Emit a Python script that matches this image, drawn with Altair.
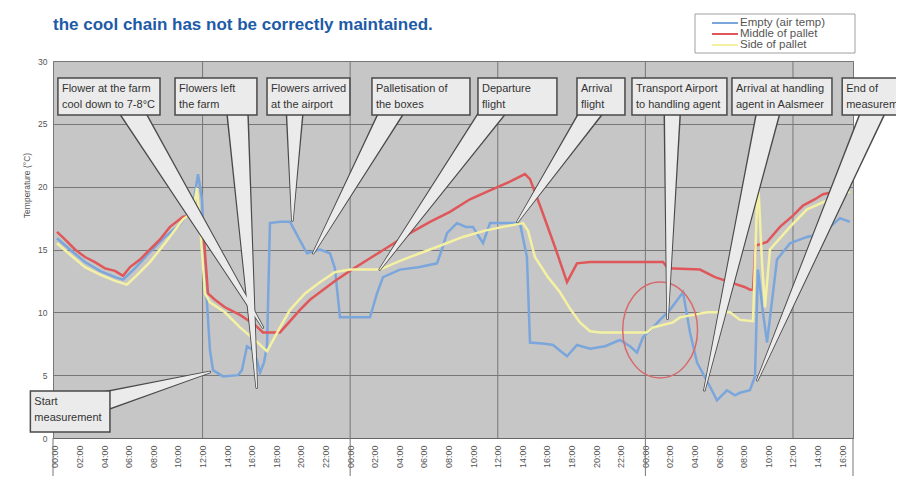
import altair as alt
import pandas as pd

# ---------------- data ----------------
series_names = ["Empty (air temp)", "Middle of pallet", "Side of pallet"]
series_colors = ["#7ba6dc", "#e0575a", "#f4f1a3"]

empty_h = [0.16, 1.22, 2.44, 3.66, 4.88, 5.53, 6.50, 7.72, 8.94, 10.16, 11.22, 11.63, 11.95, 12.28,
           12.60, 12.85, 13.66, 14.88, 15.20, 15.61, 16.10, 16.42, 16.67, 16.99, 17.24, 17.48, 18.29,
           19.11, 19.76, 20.49, 21.54, 22.36, 22.76, 23.17, 25.61, 26.18, 26.67, 28.05, 29.67, 31.06,
           31.46, 31.87, 32.68, 33.41, 33.98, 34.80, 35.37, 36.99, 37.80, 38.37, 38.62, 39.84, 40.49,
           41.63, 42.44, 43.50, 44.72, 45.93, 46.75, 47.32, 47.80, 48.62, 49.19, 50.00, 51.06, 51.63,
           52.20, 53.25, 53.82, 54.63, 55.28, 55.69, 56.50, 56.91, 57.15, 57.56, 57.89, 58.70, 59.76,
           61.14, 62.44, 63.82, 64.63]
empty_t = [15.9, 15.0, 14.0, 13.3, 12.8, 12.6, 13.5, 14.8, 16.0, 17.0, 18.5, 21.0, 19.0, 12.0,
           7.0, 5.4, 4.9, 5.0, 5.4, 7.3, 7.0, 6.2, 5.2, 6.0, 7.3, 17.1, 17.2,
           17.2, 16.0, 14.7, 15.0, 14.7, 13.5, 9.6, 9.6, 11.5, 12.8, 13.4, 13.6, 13.9,
           15.0, 16.3, 17.1, 16.8, 16.8, 15.5, 17.1, 17.1, 17.1, 14.4, 7.6, 7.5, 7.4,
           6.5, 7.4, 7.1, 7.3, 7.8, 7.3, 6.8, 8.0, 8.8, 9.4, 10.2, 11.6, 8.4,
           6.0, 4.1, 3.0, 3.8, 3.4, 3.6, 3.8, 4.9, 13.4, 10.0, 7.6, 14.2, 15.5,
           16.0, 16.3, 17.5, 17.2]

middle_h = [0.16, 0.81, 1.63, 2.44, 3.25, 4.07, 4.88, 5.53, 6.10, 6.91, 7.72, 8.54, 9.35, 10.41,
            11.38, 12.03, 12.44, 13.01, 13.82, 15.04, 16.26, 16.91, 18.29, 19.11, 19.92, 20.73,
            21.54, 22.76, 23.98, 25.61, 27.24, 28.86, 30.49, 32.11, 33.74, 35.37, 36.99, 38.21,
            38.62, 39.43, 40.65, 41.63, 42.44, 43.50, 45.93, 49.43, 49.84, 52.44, 53.66, 54.88,
            56.10, 56.50, 56.75, 56.95, 57.89, 58.94, 60.00, 60.81, 61.79, 62.44, 63.41, 64.63]
middle_t = [16.4, 15.8, 15.0, 14.4, 14.0, 13.5, 13.3, 12.9, 13.6, 14.2, 15.0, 15.8, 16.8, 17.6,
            17.7, 17.0, 11.5, 11.0, 10.4, 9.8, 9.0, 8.4, 8.4, 9.3, 10.2, 11.0,
            11.6, 12.5, 13.3, 14.3, 15.3, 16.3, 17.2, 18.0, 19.0, 19.7, 20.4, 21.0,
            20.6, 18.5, 15.2, 12.4, 13.9, 14.0, 14.0, 14.0, 13.5, 13.4, 12.8, 12.4,
            12.0, 11.8, 11.8, 15.3, 15.6, 16.8, 17.7, 18.5, 19.0, 19.4, 19.6, 20.0]

side_h = [0.16, 1.22, 2.44, 3.66, 4.88, 5.85, 6.50, 7.72, 8.94, 10.41, 11.22, 11.54, 11.79, 12.20,
          12.60, 13.82, 15.04, 16.26, 17.24, 18.13, 19.11, 20.33, 21.54, 22.76, 23.98, 26.42,
          28.05, 29.67, 31.30, 33.17, 34.96, 36.42, 38.05, 38.46, 39.02, 40.08, 41.06, 41.87,
          42.68, 43.50, 44.31, 48.13, 48.62, 50.24, 50.81, 53.01, 54.88, 55.69, 56.75, 57.15,
          57.48, 57.72, 58.13, 59.76, 61.14, 63.01, 64.63]
side_t = [15.5, 14.6, 13.6, 13.0, 12.5, 12.2, 12.8, 14.0, 15.5, 17.4, 18.0, 19.9, 17.0, 11.5,
          10.8, 10.0, 8.8, 7.8, 6.9, 8.5, 10.2, 11.5, 12.4, 13.2, 13.4, 13.4,
          14.1, 14.7, 15.3, 16.0, 16.5, 16.8, 17.1, 16.5, 14.4, 12.8, 11.6, 10.3,
          9.2, 8.5, 8.4, 8.4, 8.8, 9.2, 9.6, 10.0, 10.0, 9.4, 9.3, 20.8,
          14.0, 10.4, 15.0, 16.8, 18.2, 19.0, 19.6]

x_domain = [-0.16, 64.88]
y_domain = [0, 30]
tick_hours = list(range(0, 65, 2))
y_ticks = [0, 5, 10, 15, 20, 25, 30]
half_day_grid = [12, 24, 36, 48, 60]
long_ticks = [x_domain[0], 24, 48, x_domain[1]]

title_lines = ["Figure 1 > Example of storage and transport where",
               "the cool chain has not be correctly maintained."]
y_title = "Temperature (°C)"

box_labels = ["Flower at the farm\ncool down to 7-8°C", "Flowers left\nthe farm",
              "Flowers arrived\nat the airport", "Palletisation of\nthe boxes",
              "Departure\nflight", "Arrival\nflight", "Transport Airport\nto handling agent",
              "Arrival at handling\nagent in Aalsmeer", "End of\nmeasurement",
              "Start\nmeasurement"]
box_h1 = [0.24, 9.76, 17.24, 25.77, 34.39, 42.44, 46.91, 55.04, 64.0, -2.0]
box_h2 = [8.54, 16.42, 23.98, 33.74, 40.81, 46.34, 54.63, 63.17, 71.0, 4.47]
box_top = [28.64, 28.64, 28.64, 28.64, 28.64, 28.64, 28.64, 28.64, 28.64, 3.74]
box_bottom = [25.7, 25.7, 25.7, 25.7, 25.7, 25.7, 25.7, 25.7, 25.7, 0.48]

wedge_base_h = [6.0, 14.8, 19.5, 27.6, 35.9, 43.9, 50.2, 58.1, 66.7, 3.5]
wedge_base_t = [26.4, 26.4, 26.4, 26.4, 26.4, 26.4, 26.4, 26.4, 26.4, 2.8]
wedge_tip_h = [16.9, 16.4, 19.3, 21.0, 26.4, 37.6, 49.8, 52.8, 57.1, 12.6]
wedge_tip_t = [8.8, 4.0, 17.3, 14.7, 13.4, 17.2, 9.5, 3.8, 4.6, 5.25]
wedge_width = [22, 20, 16, 22, 22, 20, 15, 22, 22, 18]

circle_h = [49.2]
circle_t = [8.6]

# ---------------- tables ----------------
rows = []
for name, hs, ts in zip(series_names, [empty_h, middle_h, side_h], [empty_t, middle_t, side_t]):
    for h, t in zip(hs, ts):
        rows.append({"series": name, "hour": h, "temp": t})
lines_df = pd.DataFrame(rows)

boxes_df = pd.DataFrame({"label": box_labels, "hour": box_h1, "hour2": box_h2,
                         "temp": box_top, "temp2": box_bottom})
wrows = []
for i in range(len(wedge_base_h)):
    wrows.append({"id": i, "k": 0, "hour": wedge_base_h[i], "temp": wedge_base_t[i],
                  "wd": wedge_width[i] + 3, "wl": wedge_width[i]})
    wrows.append({"id": i, "k": 1, "hour": wedge_tip_h[i], "temp": wedge_tip_t[i],
                  "wd": 2.5, "wl": 0})
wedge_df = pd.DataFrame(wrows)

FONT = "Liberation Sans"
xs = alt.Scale(domain=x_domain, nice=False, zero=False)
ys = alt.Scale(domain=y_domain, nice=False, zero=False)
label_expr = "(datum.value % 24 < 10 ? '0' : '') + (datum.value % 24) + ':00'"

x_axis = alt.Axis(values=tick_hours, labelExpr=label_expr, labelAngle=270,
                  labelAlign="right", labelBaseline="middle", labelFontSize=9,
                  labelFont=FONT, labelColor="#555555", labelPadding=7,
                  labelOverlap=False, ticks=False, grid=False, domainColor="#666666",
                  title=None)
y_axis = alt.Axis(values=y_ticks, grid=True, gridColor="#777777", gridWidth=1,
                  ticks=False, domain=False, labelFontSize=8.5, labelFont=FONT,
                  labelColor="#555555", labelPadding=6, title=y_title,
                  titleFontSize=8.5, titleFont=FONT, titleFontWeight="normal",
                  titleColor="#555555", titleAngle=270, titleX=-27, titleY=124,
                  titleAlign="center", titleBaseline="middle")


def X(field="hour"):
    return alt.X(f"{field}:Q", scale=xs, axis=x_axis)


def Y(field="temp"):
    return alt.Y(f"{field}:Q", scale=ys, axis=y_axis)


lines = alt.Chart(lines_df).mark_line(strokeWidth=2.5).encode(
    x=X(), y=Y(),
    color=alt.Color("series:N", scale=alt.Scale(domain=series_names, range=series_colors),
                    legend=None),
    order=alt.Order("hour:Q"),
)

vgrid = alt.Chart(pd.DataFrame({"hour": half_day_grid})).mark_rule(
    color="#777777", strokeWidth=1).encode(x=X())

longtick = alt.Chart(pd.DataFrame({"hour": long_ticks})).mark_rule(
    color="#777777", strokeWidth=1).encode(x=X(), y=alt.value(377), y2=alt.value(423))

ellipse = "M -0.78 0 A 0.78 1 0 1 0 0.78 0 A 0.78 1 0 1 0 -0.78 0 Z"
circle = alt.Chart(pd.DataFrame({"hour": circle_h, "temp": circle_t})).mark_point(
    shape=ellipse, size=9216, filled=False, stroke="#d86a6c", strokeWidth=1.5, opacity=1).encode(
    x=X(), y=Y())

wedge_dark = alt.Chart(wedge_df).mark_trail(color="#4a4a4a").encode(
    x=X(), y=Y(), size=alt.Size("wd:Q", scale=None, legend=None), detail="id:N", order="k:Q")
wedge_light = alt.Chart(wedge_df).mark_trail(color="#ebebeb").encode(
    x=X(), y=Y(), size=alt.Size("wl:Q", scale=None, legend=None), detail="id:N", order="k:Q")

boxes = alt.Chart(boxes_df).mark_rect(fill="#ebebeb", stroke="#4a4a4a", strokeWidth=1.5).encode(
    x=X(), x2="hour2:Q", y=Y(), y2="temp2:Q")
box_text = alt.Chart(boxes_df).mark_text(
    align="left", baseline="top", dx=4, dy=5, fontSize=11, lineHeight=16, font=FONT,
    color="#333333", lineBreak="\n").encode(x=X(), y=Y(), text="label:N")

layers = [vgrid, longtick, lines, circle, wedge_dark, wedge_light, boxes, box_text]

# title text
for i, line in enumerate(title_lines):
    layers.append(alt.Chart(pd.DataFrame({"t": [line]})).mark_text(
        align="left", baseline="alphabetic", fontSize=17, fontWeight="bold",
        font=FONT, color="#1d5ba7").encode(
        x=alt.value(0), y=alt.value(-58 + 27 * i), text="t:N"))

# legend
layers.append(alt.Chart(pd.DataFrame({"a": [0]})).mark_rect(
    fill="white", stroke="#a0a0a0", strokeWidth=1).encode(
    x=alt.value(642), x2=alt.value(802), y=alt.value(-47), y2=alt.value(-8)))
for i, (name, col) in enumerate(zip(series_names, series_colors)):
    yy = -38 + 11 * i
    layers.append(alt.Chart(pd.DataFrame({"n": [name]})).mark_rule(
        color=col, strokeWidth=2).encode(x=alt.value(659), x2=alt.value(685), y=alt.value(yy)))
    layers.append(alt.Chart(pd.DataFrame({"n": [name]})).mark_text(
        align="left", baseline="middle", fontSize=11.5, font=FONT, color="#555555").encode(
        x=alt.value(687), y=alt.value(yy), text="n:N"))

chart = alt.layer(*layers).properties(
    width=800, height=377,
    autosize=alt.AutoSizeParams(type="none"),
    padding={"left": 45, "top": 53, "right": 43, "bottom": 38},
    background="white",
).configure_view(fill="#c6c6c6", stroke="#777777", strokeWidth=1)

chart.save("out.html", embed_options={"renderer": "svg", "actions": False})
